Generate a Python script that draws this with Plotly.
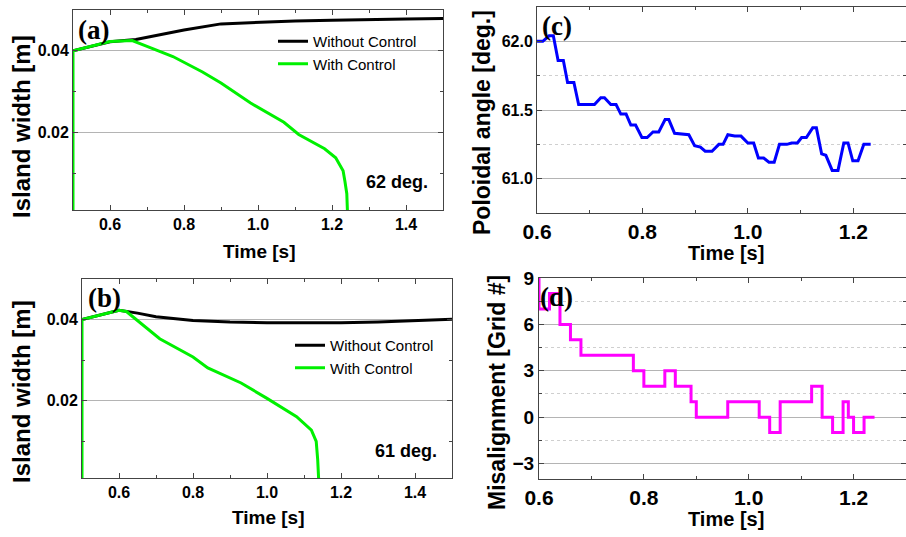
import plotly.graph_objects as go

# ---------------- data ----------------
# (a) 62 deg.
a_without_t = [0.5, 0.6, 0.67, 0.8, 0.9, 1.0, 1.1, 1.2, 1.3, 1.4, 1.5]
a_without_w = [0.0400, 0.0422, 0.0428, 0.0451, 0.0466, 0.0470, 0.0473, 0.0475, 0.0477, 0.0478, 0.0479]
a_with_t = [0.5, 0.5, 0.6, 0.66, 0.7, 0.77, 0.85, 0.9, 0.98, 1.07, 1.11, 1.18, 1.21, 1.23, 1.235, 1.24, 1.242]
a_with_w = [0.0, 0.0400, 0.0423, 0.0425, 0.0411, 0.0386, 0.0348, 0.0321, 0.0272, 0.0225, 0.0195, 0.0160, 0.0138, 0.0106, 0.0080, 0.0050, 0.0]

# (b) 61 deg.
b_without_t = [0.5, 0.6, 0.65, 0.7, 0.8, 0.9, 1.0, 1.1, 1.2, 1.3, 1.4, 1.5]
b_without_w = [0.0400, 0.0423, 0.0416, 0.0407, 0.0398, 0.0394, 0.0392, 0.0392, 0.0392, 0.0394, 0.0397, 0.0401]
b_with_t = [0.5, 0.5, 0.6, 0.62, 0.71, 0.8, 0.84, 0.93, 1.0, 1.08, 1.12, 1.133, 1.137, 1.14]
b_with_w = [0.0, 0.0400, 0.0423, 0.0420, 0.0353, 0.0308, 0.0281, 0.0244, 0.0206, 0.0161, 0.0128, 0.0100, 0.0055, 0.0]

# (c) poloidal angle
c_t = [0.600, 0.611, 0.623, 0.631, 0.640, 0.650, 0.658, 0.670, 0.679, 0.709, 0.721, 0.728,
       0.740, 0.750, 0.759, 0.769, 0.778, 0.787, 0.799, 0.809, 0.820, 0.831, 0.843, 0.850,
       0.861, 0.888, 0.899, 0.910, 0.919, 0.932, 0.945, 0.953, 0.962, 0.975, 0.987, 1.000,
       1.011, 1.020, 1.030, 1.040, 1.050, 1.060, 1.074, 1.083, 1.094, 1.102, 1.111, 1.123,
       1.130, 1.140, 1.148, 1.160, 1.171, 1.182, 1.190, 1.199, 1.209, 1.220, 1.233]
c_ang = [62.00, 62.00, 62.04, 62.04, 61.86, 61.86, 61.70, 61.70, 61.54, 61.54, 61.59, 61.59,
         61.54, 61.54, 61.47, 61.47, 61.39, 61.39, 61.30, 61.30, 61.34, 61.34, 61.43, 61.43,
         61.33, 61.32, 61.24, 61.23, 61.20, 61.20, 61.25, 61.25, 61.32, 61.31, 61.31, 61.26,
         61.26, 61.15, 61.15, 61.12, 61.12, 61.25, 61.25, 61.26, 61.26, 61.30, 61.30, 61.37,
         61.37, 61.18, 61.17, 61.06, 61.06, 61.26, 61.26, 61.13, 61.13, 61.25, 61.25]

# (d) misalignment (step)
d_t = [0.60, 0.60, 0.62, 0.64, 0.66, 0.68, 0.78, 0.80, 0.84, 0.86, 0.89, 0.90, 0.96,
       1.02, 1.04, 1.06, 1.12, 1.14, 1.16, 1.18, 1.19, 1.20, 1.22, 1.24]
d_grid = [9, 7, 8, 6, 5, 4, 3, 2, 3, 2, 1, 0, 1, 0, -1, 1, 2, 0, -1, 1, 0, -1, 0, 0]

x_ticks_ab = [0.6, 0.8, 1.0, 1.2, 1.4]
x_ticks_cd = [0.6, 0.8, 1.0, 1.2]

# ---------------- figure ----------------
W, H = 906, 537
GREEN = "#00f000"
SANS = "Liberation Sans, Arial, sans-serif"
SERIF = "Liberation Serif, Times New Roman, serif"

def px(x):
    return x / W

def py(y):
    return 1 - y / H

fig = go.Figure()

fig.add_trace(go.Scatter(x=a_without_t, y=a_without_w, mode="lines", name="Without Control",
                         line=dict(color="black", width=3), xaxis="x", yaxis="y", legend="legend"))
fig.add_trace(go.Scatter(x=a_with_t, y=a_with_w, mode="lines", name="With Control",
                         line=dict(color=GREEN, width=3), xaxis="x", yaxis="y", legend="legend"))
fig.add_trace(go.Scatter(x=b_without_t, y=b_without_w, mode="lines", name="Without Control",
                         line=dict(color="black", width=3), xaxis="x2", yaxis="y2", legend="legend2"))
fig.add_trace(go.Scatter(x=b_with_t, y=b_with_w, mode="lines", name="With Control",
                         line=dict(color=GREEN, width=3), xaxis="x2", yaxis="y2", legend="legend2"))
fig.add_trace(go.Scatter(x=c_t, y=c_ang, mode="lines", showlegend=False,
                         line=dict(color="#0000ff", width=3), xaxis="x3", yaxis="y3"))
fig.add_trace(go.Scatter(x=d_t, y=d_grid, mode="lines", showlegend=False,
                         line=dict(color="#ff00ff", width=3, shape="hv"), xaxis="x4", yaxis="y4"))

axis_common = dict(showline=True, linecolor="#444", linewidth=1, mirror="ticks",
                   ticks="inside", ticklen=5, tickcolor="#444", zeroline=False, automargin=False)

def xax(domain, anchor, rng, tickvals, fsize):
    d = dict(axis_common)
    d.update(domain=domain, anchor=anchor, range=rng, tickvals=tickvals,
             ticktext=["%.1f" % v for v in tickvals], showgrid=False,
             tickfont=dict(family=SANS, size=fsize, color="black", weight="bold"),
             minor=dict(dtick=0.1, tick0=0.5, ticks="inside", ticklen=3, tickcolor="#444", showgrid=False))
    return d

def yax(domain, anchor, rng, dtick, tick0, fmt, fsize, minor_dtick, minor_grid):
    d = dict(axis_common)
    d.update(domain=domain, anchor=anchor, range=rng, dtick=dtick, tick0=tick0, tickformat=fmt,
             showgrid=True, gridcolor="#b4b4b4", gridwidth=1.3,
             tickfont=dict(family=SANS, size=fsize, color="black", weight="bold"),
             minor=dict(dtick=minor_dtick, tick0=tick0, ticks="inside", ticklen=3, tickcolor="#444",
                        showgrid=minor_grid, gridcolor="#cfcfcf", griddash="dot", gridwidth=1))
    return d

fig.update_layout(
    template="none",
    width=W, height=H,
    margin=dict(l=0, r=0, t=0, b=0, autoexpand=False),
    paper_bgcolor="white", plot_bgcolor="white",
    xaxis=xax([px(73), px(443)], "y", [0.5, 1.5], x_ticks_ab, 16),
    yaxis=yax([py(210), py(10)], "x", [0.001, 0.05], 0.02, 0, ".2f", 16, 0.01, False),
    xaxis2=xax([px(82), px(452)], "y2", [0.5, 1.5], x_ticks_ab, 16),
    yaxis2=yax([py(478), py(279)], "x2", [0.001, 0.05], 0.02, 0, ".2f", 16, 0.01, False),
    xaxis3=xax([px(537), 1.0], "y3", [0.6, 1.3], x_ticks_cd, 21),
    yaxis3=yax([py(213), py(7)], "x3", [60.75, 62.25], 0.5, 61.0, ".1f", 16, 0.25, True),
    xaxis4=xax([px(539), 1.0], "y4", [0.6, 1.3], x_ticks_cd, 21),
    yaxis4=yax([py(479), py(278)], "x4", [-4, 9], 3, 0, "d", 19, 1.5, True),
    legend=dict(x=px(273), y=py(25), xanchor="left", yanchor="top", bgcolor="rgba(0,0,0,0)",
                font=dict(family=SANS, size=15, color="black"), tracegroupgap=0, itemwidth=30),
    legend2=dict(x=px(290), y=py(329), xanchor="left", yanchor="top", bgcolor="rgba(0,0,0,0)",
                 font=dict(family=SANS, size=15, color="black"), tracegroupgap=0, itemwidth=30),
    showlegend=True,
)

ann = []
def label(text, x, y, size, family=SANS, angle=0, xanchor="center", bold=True):
    ann.append(dict(text=text, x=px(x), y=py(y), xref="paper", yref="paper", showarrow=False,
                    xanchor=xanchor, yanchor="middle", textangle=angle,
                    font=dict(family=family, size=size, color="black", weight="bold" if bold else "normal")))

# panel letters
label("(a)", 76, 30, 27, SERIF, xanchor="left")
label("(b)", 86, 298, 27, SERIF, xanchor="left")
label("(c)", 540, 26, 27, SERIF, xanchor="left")
label("(d)", 538, 297, 27, SERIF, xanchor="left")
# in-plot notes
label("62 deg.", 397, 182, 18)
label("61 deg.", 406, 451, 18)
# axis titles
label("Island width [m]", 21, 127, 24, angle=-90)
label("Island width [m]", 21, 392, 24, angle=-90)
label("Poloidal angle [deg.]", 482, 123, 23, angle=-90)
label("Misalignment [Grid #]", 497, 393, 23, angle=-90)
label("Time [s]", 259, 251, 19)
label("Time [s]", 268, 517, 19)
label("Time [s]", 726, 253, 20)
label("Time [s]", 726, 519, 20)

fig.update_layout(annotations=ann)
fig.write_html("out.html")
